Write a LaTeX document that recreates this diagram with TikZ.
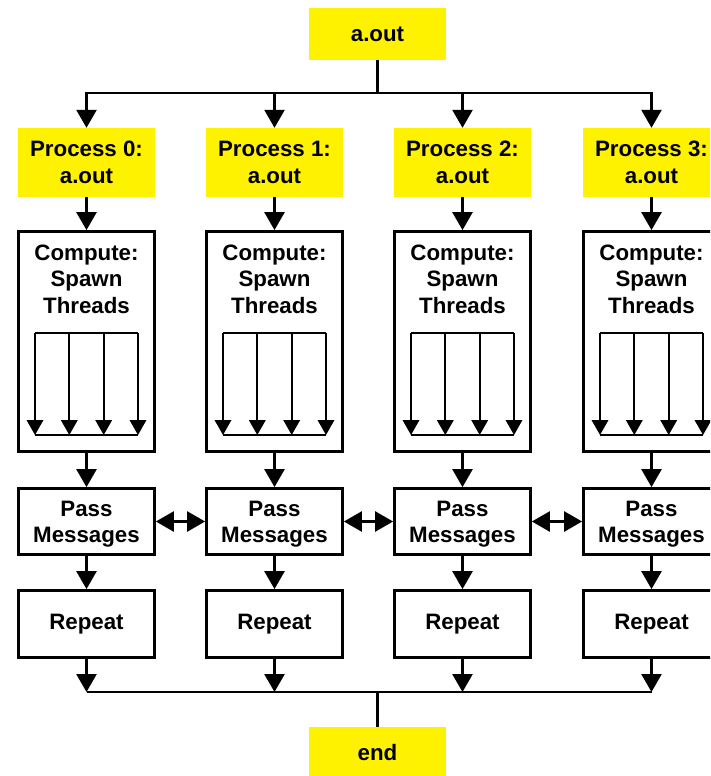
\documentclass[tikz,border=0pt]{standalone}
\usepackage{fontspec}
\setmainfont{Liberation Sans}
\usetikzlibrary{arrows.meta,calc}

\begin{document}
\begin{tikzpicture}[x=1pt,y=-1pt,
  font=\fontsize{22.3}{26.5}\selectfont\bfseries,
  ybox/.style={fill=yellow, inner sep=0pt, minimum width=137pt, align=center},
  wbox/.style={draw, line width=2.8pt, fill=white, inner sep=0pt, minimum width=136pt, align=center},
  lbl/.style={align=center, inner sep=0pt},
  conn/.style={line width=2.6pt, line join=miter},
  tip/.tip={Triangle[width=20pt,length=18pt]},
  arr/.style={conn, -tip},
  dbl/.style={conn, tip-tip},
  thr/.style={line width=2pt},
  thrarr/.style={thr, -{Triangle[width=16.5pt,length=15pt]}},
]
\useasboundingbox (0,0) rectangle (710,776);
\clip (0,0) rectangle (710,776);
\fill[white] (0,0) rectangle (710,776);

% start and end of the program
\node[ybox, minimum height=52pt] (top) at (377.5,34) {a.out};
\node[ybox, minimum height=52pt] (end) at (377.5,753) {end};

% one column per MPI process
\foreach \i/\cx in {0/86.5,1/274.5,2/462.5,3/651.5} {
  \node[ybox, minimum height=69pt] (p\i) at (\cx,162.5) {Process \i:\\a.out};
  \node[wbox, minimum height=220pt] (c\i) at (\cx,341.5) {};
  \node[lbl] (t\i) at (\cx,279) {Compute:\\Spawn\\Threads};
  \node[wbox, minimum height=66pt] (m\i) at (\cx,521.5) {};
  \node[lbl] (mt\i) at (\cx,524) {Pass\\Messages};
  \node[wbox, minimum height=67pt] (r\i) at (\cx,624) {Repeat};
  % fork/join of the threads inside the compute step
  \coordinate (fa\i) at ([shift={(-51.5,-8.5)}]c\i.center);
  \coordinate (fb\i) at ([shift={(51.5,-8.5)}]c\i.center);
  \coordinate (ja\i) at ([shift={(-51.5,93.5)}]c\i.center);
  \coordinate (jb\i) at ([shift={(51.5,93.5)}]c\i.center);
  \draw[thr] (fa\i) -- (fb\i);
  \draw[thr] (ja\i) -- (jb\i);
  \foreach \dx in {-51.5,-17.2,17.2,51.5}
    \draw[thrarr] ([xshift=\dx]c\i.center |- fa\i) -- ([xshift=\dx]c\i.center |- ja\i);
}

% connectors
\coordinate (split) at (377.5,93);
\coordinate (join) at (377.5,692);
\draw[conn] (top) -- (split);
\foreach \i in {0,1,2,3} {
  \draw[arr] (split) -| (p\i.north);
  \draw[arr] (p\i) -- (c\i);
  \draw[arr] (c\i) -- (m\i);
  \draw[arr] (m\i) -- (r\i);
  \draw[arr] (r\i) -- (r\i.south |- join);
}
\draw[conn] (r0.south |- join) -- (r3.south |- join);
\draw[conn] (join) -- (end);
\draw[dbl] (m0) -- (m1);
\draw[dbl] (m1) -- (m2);
\draw[dbl] (m2) -- (m3);
\end{tikzpicture}
\end{document}
